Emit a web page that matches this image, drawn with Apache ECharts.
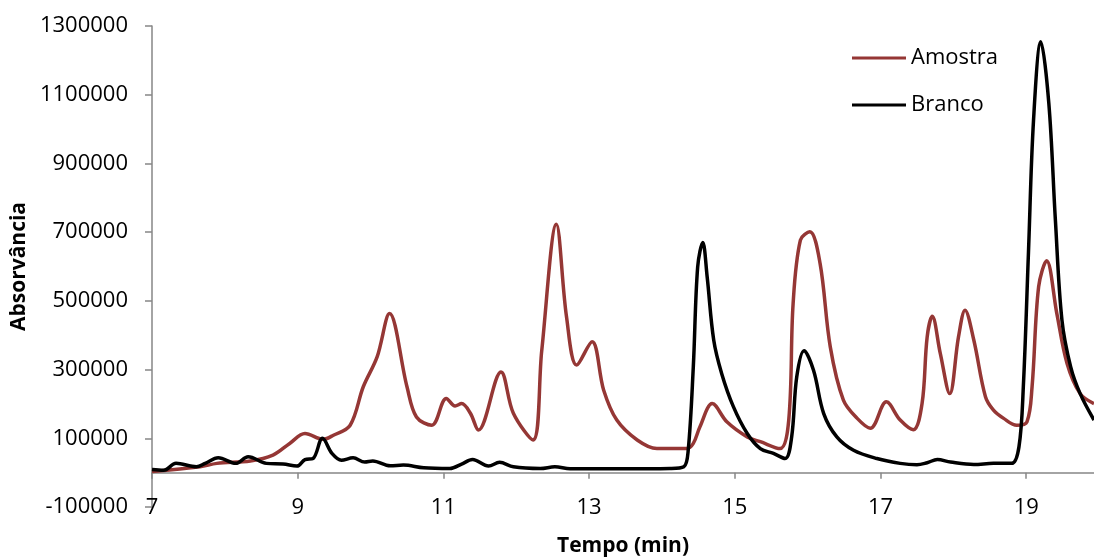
<!DOCTYPE html>
<html>
<head>
<meta charset="utf-8">
<script src="https://cdn.jsdelivr.net/npm/echarts@6/dist/echarts.min.js"></script>
<style>
html,body{margin:0;padding:0;background:#fff;}
#chart{width:1094px;height:558px;}
</style>
</head>
<body>
<div id="chart"></div>
<script>
const seriesNames = ['Amostra', 'Branco'];
const xAxisTitle = 'Tempo (min)';
const yAxisTitle = 'Absorvância';

const amostraX = [7.00, 7.66, 7.89, 8.35, 8.66, 8.89, 9.10, 9.35, 9.49, 9.72, 9.90, 10.09, 10.26, 10.50, 10.63, 10.84, 11.04, 11.16, 11.25, 11.37, 11.48, 11.79, 11.96, 12.23, 12.35, 12.55, 12.69, 12.83, 13.04, 13.20, 13.38, 13.66, 13.93, 14.34, 14.43, 14.52, 14.69, 14.89, 15.17, 15.35, 15.62, 15.74, 15.80, 15.90, 16.03, 16.17, 16.31, 16.49, 16.68, 16.86, 17.08, 17.27, 17.45, 17.57, 17.64, 17.71, 17.82, 17.95, 18.07, 18.16, 18.28, 18.44, 18.55, 18.69, 18.87, 19.01, 19.08, 19.17, 19.28, 19.42, 19.56, 19.74, 19.93];
const amostraY = [3000, 17000, 27000, 34000, 51000, 85000, 114000, 97000, 109000, 138000, 250000, 337000, 463000, 250000, 162000, 138000, 216000, 194000, 201000, 173000, 124000, 293000, 173000, 95000, 356000, 723000, 453000, 313000, 381000, 240000, 153000, 95000, 70000, 70000, 85000, 133000, 201000, 148000, 104000, 90000, 70000, 153000, 492000, 677000, 701000, 609000, 366000, 211000, 158000, 129000, 206000, 153000, 125000, 201000, 395000, 455000, 347000, 230000, 395000, 473000, 386000, 221000, 182000, 158000, 138000, 148000, 250000, 541000, 617000, 463000, 318000, 230000, 201000];

const brancoX = [7.00, 7.16, 7.33, 7.61, 7.73, 7.91, 8.15, 8.32, 8.57, 8.80, 8.99, 9.10, 9.21, 9.34, 9.47, 9.60, 9.76, 9.92, 10.03, 10.27, 10.45, 10.73, 11.09, 11.25, 11.40, 11.62, 11.77, 11.96, 12.33, 12.53, 12.74, 13.43, 14.11, 14.30, 14.36, 14.43, 14.49, 14.56, 14.62, 14.71, 14.82, 14.98, 15.17, 15.35, 15.53, 15.69, 15.78, 15.85, 15.95, 16.08, 16.22, 16.40, 16.63, 16.95, 17.27, 17.50, 17.64, 17.78, 17.96, 18.28, 18.55, 18.80, 18.90, 18.96, 19.03, 19.10, 19.20, 19.31, 19.40, 19.49, 19.61, 19.74, 19.93];
const brancoY = [9000, 7000, 27000, 17000, 27000, 43000, 27000, 46000, 27000, 25000, 19000, 38000, 41000, 100000, 56000, 36000, 43000, 31000, 34000, 20000, 22000, 14000, 12000, 25000, 38000, 19000, 30000, 17000, 12000, 17000, 11000, 11000, 12000, 17000, 65000, 308000, 599000, 670000, 570000, 386000, 288000, 192000, 114000, 70000, 56000, 41000, 104000, 279000, 355000, 298000, 172000, 104000, 65000, 41000, 27000, 23000, 29000, 38000, 31000, 24000, 27000, 27000, 75000, 250000, 638000, 1026000, 1254000, 1075000, 735000, 444000, 308000, 230000, 153000];

const yTicks = [-100000, 100000, 300000, 500000, 700000, 900000, 1100000, 1300000];
const xTicks = [7, 9, 11, 13, 15, 17, 19];

const pairs = (xs, ys) => xs.map((x, i) => [x, ys[i]]);
const FONT = 'Open Sans';

const chart = echarts.init(document.getElementById('chart'), null, {renderer: 'canvas'});
chart.setOption({
  animation: false,
  backgroundColor: '#ffffff',
  grid: {left: 152, right: 0, top: 26, bottom: 51, containLabel: false, outerBoundsMode: 'none'},
  legend: {
    orient: 'vertical',
    left: 847,
    top: 42,
    itemWidth: 54,
    itemHeight: 14,
    itemGap: 25,
    icon: 'path://M0,5.5 L54,5.5 L54,8.5 L0,8.5 Z',
    textStyle: {fontFamily: FONT, fontSize: 22, color: '#000', padding: [0,0,0,0]},
    data: seriesNames
  },
  xAxis: {
    type: 'value',
    min: 7,
    max: 19.93,
    interval: 2,
    name: xAxisTitle,
    nameLocation: 'middle',
    nameGap: 29,
    nameMoveOverlap: false,
    nameTextStyle: {fontFamily: FONT, fontSize: 21, fontWeight: 'bold', color: '#000'},
    axisLine: {show: true, onZero: true, lineStyle: {color: '#868686', width: 1.5}},
    axisTick: {show: true, length: 6, lineStyle: {color: '#868686', width: 1.5}},
    splitLine: {show: false},
    axisLabel: {
      margin: -10,
      fontFamily: FONT, fontSize: 22, color: '#000',
      showMaxLabel: false,
      formatter: v => (xTicks.indexOf(Math.round(v * 100) / 100) >= 0 ? String(v) : '')
    }
  },
  yAxis: {
    type: 'value',
    min: -100000,
    max: 1300000,
    interval: 200000,
    name: yAxisTitle,
    nameLocation: 'middle',
    nameRotate: 90,
    nameGap: 120,
    nameTextStyle: {fontFamily: FONT, fontSize: 21, fontWeight: 'bold', color: '#000'},
    axisLine: {show: true, lineStyle: {color: '#868686', width: 1.5}},
    axisTick: {show: true, length: 7, lineStyle: {color: '#868686', width: 1.5}},
    splitLine: {show: false},
    axisLabel: {
      margin: 24,
      fontFamily: FONT, fontSize: 22, color: '#000',
      formatter: v => (yTicks.indexOf(v) >= 0 ? String(v) : '')
    }
  },
  series: [
    {
      name: seriesNames[0],
      type: 'line',
      data: pairs(amostraX, amostraY),
      smooth: 0.35,
      symbol: 'none',
      lineStyle: {color: '#953735', width: 3.5},
      itemStyle: {color: '#953735'},
      z: 2
    },
    {
      name: seriesNames[1],
      type: 'line',
      data: pairs(brancoX, brancoY),
      smooth: 0.35,
      symbol: 'none',
      lineStyle: {color: '#000000', width: 3.5},
      itemStyle: {color: '#000000'},
      z: 3
    }
  ]
});
</script>
</body>
</html>
